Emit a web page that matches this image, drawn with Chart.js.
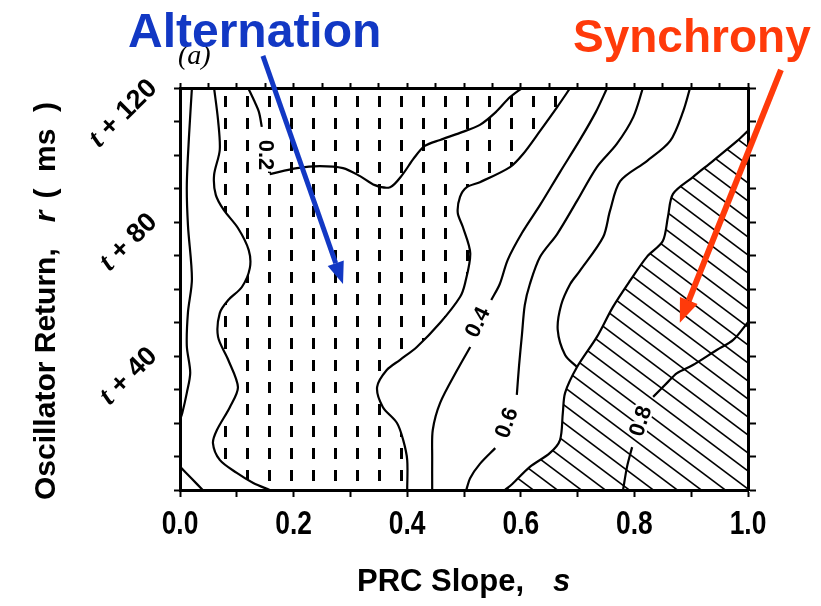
<!DOCTYPE html>
<html>
<head>
<meta charset="utf-8">
<script src="https://cdn.jsdelivr.net/npm/chart.js@4.4.1/dist/chart.umd.min.js"></script>
<style>
  html, body { margin: 0; padding: 0; background: #fff; }
</style>
</head>
<body>
<canvas id="contourChart" width="821" height="606"></canvas>
<script>
// axis ticks
const sTicks = [0.0, 0.2, 0.4, 0.6, 0.8, 1.0];
const rTicks = [40, 80, 120];
const rTickText = ['t + 40', 't + 80', 't + 120'];

// contour lines, [s, r] pairs
const edgeLeft = [[0.021,120],[0.016,106],[0.012,91],[0.014,79],[0.021,63],[0.014,53],[0.012,43],[0.018,35],[0.012,29],[0.004,23],[0,21]];
const edgeCorner = [[0,7],[0.02,3.5],[0.04,0]];
const altLeft = [[0.060,120],[0.067,110.4],[0.070,101.5],[0.060,94.0],[0.063,88.1],[0.077,83.6],[0.102,78.2],[0.121,71.6],[0.123,66.3],[0.109,60.6],[0.085,56.7],[0.070,52.8],[0.067,45.7],[0.085,38.8],[0.102,30.7],[0.088,24.8],[0.065,17.9],[0.058,14.0],[0.070,9.0],[0.100,5.1],[0.129,2.1],[0.158,0]];
const altRight = [[0.687,120],[0.664,114.3],[0.634,107.2],[0.604,100.3],[0.581,96.4],[0.528,91.9],[0.505,90.4],[0.493,87.5],[0.489,82.7],[0.498,78.5],[0.511,70.7],[0.502,61.8],[0.493,57.6],[0.458,49.9],[0.417,42.7],[0.387,38.8],[0.364,35.8],[0.347,30.7],[0.357,24.8],[0.382,20.0],[0.393,14.9],[0.400,9.0],[0.400,0]];
const c02top = [[0.120,120],[0.130,116.4],[0.139,112.8],[0.144,108.4]];
const c02loop = [[0.158,94.3],[0.206,96.1],[0.246,96.7],[0.287,96.1],[0.317,93.7],[0.343,91.0],[0.370,90.4],[0.391,94.0],[0.412,99.1],[0.431,102.7],[0.458,104.5],[0.493,106.6],[0.528,109.0],[0.556,112.8],[0.581,117.3],[0.602,120]];
const c04top = [[0.752,120],[0.732,112.8],[0.704,104.5],[0.669,94.9],[0.634,85.1],[0.602,76.7],[0.577,68.7],[0.563,61.5],[0.548,56.7]];
const c04low = [[0.511,42.7],[0.488,35.8],[0.458,26.0],[0.445,17.9],[0.444,9.9],[0.444,0]];
const c06top = [[0.815,120],[0.798,111.3],[0.769,103.3],[0.734,96.4],[0.699,86.3],[0.664,76.4],[0.634,69.6],[0.616,61.5],[0.607,55.2],[0.602,46.3],[0.597,37.3],[0.593,28.4]];
const c06low = [[0.555,12.5],[0.528,7.8],[0.511,3.6],[0.504,0]];
const c07 = [[0.898,120],[0.886,113.1],[0.863,104.2],[0.822,98.2],[0.775,92.2],[0.757,83.3],[0.745,75.5],[0.704,65.4],[0.687,61.5],[0.671,55.2],[0.665,47.8],[0.678,40.3],[0.699,36.7]];
const syncEdge = [[1.0,107.2],[0.981,104.2],[0.938,98.2],[0.903,93.4],[0.868,88.4],[0.859,81.5],[0.850,74.3],[0.822,69.6],[0.792,62.4],[0.762,54.6],[0.734,45.7],[0.699,36.7],[0.678,29.0],[0.674,23.0],[0.669,14.9],[0.651,11.0],[0.616,6.9],[0.585,1.8],[0.572,0]];
const c08top = [[1.0,50.1],[0.974,44.8],[0.945,41.8],[0.903,37.3],[0.875,34.9],[0.857,31.9],[0.833,27.8]];
const c08low = [[0.796,12.8],[0.787,6.9],[0.780,0]];

const FONT = '"Liberation Sans", Arial, sans-serif';

const ctx = document.getElementById('contourChart').getContext('2d');

function dashPattern() {
  const c = document.createElement('canvas');
  c.width = 22; c.height = 22;
  const g = c.getContext('2d');
  g.fillStyle = '#000';
  g.fillRect(4, 8, 3, 11);
  return g.createPattern(c, 'repeat');
}

function hatchPattern() {
  const c = document.createElement('canvas');
  c.width = 24; c.height = 18;
  const g = c.getContext('2d');
  g.strokeStyle = '#000';
  g.lineWidth = 1.6;
  for (const off of [-18, 0, 18]) {
    g.beginPath();
    g.moveTo(-2, off - 1.5);
    g.lineTo(26, off + 19.5);
    g.stroke();
  }
  return g.createPattern(c, 'repeat');
}

const toXY = arr => arr.map(([x, y]) => ({x, y}));

function contour(arr) {
  return {data: toXY(arr), showLine: true, borderColor: '#000', borderWidth: 2.2,
    pointRadius: 0, tension: 0.3, fill: false, order: 1};
}
function region(arr, pattern) {
  return {data: toXY(arr), showLine: true, borderColor: 'rgba(0,0,0,0)', borderWidth: 1,
    backgroundColor: pattern, pointRadius: 0, tension: 0.3, fill: 'shape', order: 5};
}

function arrow(g, x0, y0, x1, y1, color, w, len, wid) {
  const a = Math.atan2(y1 - y0, x1 - x0);
  const bx = x1 - len * Math.cos(a), by = y1 - len * Math.sin(a);
  g.strokeStyle = color;
  g.lineWidth = w;
  g.beginPath(); g.moveTo(x0, y0); g.lineTo(bx, by); g.stroke();
  g.fillStyle = color;
  g.beginPath();
  g.moveTo(x1, y1);
  g.lineTo(bx + wid / 2 * Math.sin(a), by - wid / 2 * Math.cos(a));
  g.lineTo(bx - wid / 2 * Math.sin(a), by + wid / 2 * Math.cos(a));
  g.closePath();
  g.fill();
}

const decorations = {
  id: 'decorations',
  afterDatasetsDraw(chart) {
    const {ctx: g, scales: {x, y}} = chart;
    // contour values written along the lines
    const tags = [['0.2', 0.150, 100, 90], ['0.4', 0.525, 50, -64], ['0.6', 0.576, 20, -70], ['0.8', 0.812, 20.5, -72]];
    g.save();
    g.font = 'bold 22px ' + FONT;
    g.textAlign = 'center';
    g.textBaseline = 'middle';
    tags.forEach(([txt, s, r, deg]) => {
      g.save();
      g.translate(x.getPixelForValue(s), y.getPixelForValue(r));
      g.rotate(deg * Math.PI / 180);
      g.strokeStyle = '#fff'; g.lineWidth = 5; g.lineJoin = 'round';
      g.strokeText(txt, 0, 0);
      g.fillStyle = '#000';
      g.fillText(txt, 0, 0);
      g.restore();
    });
    g.restore();
  },
  afterDraw(chart) {
    const {ctx: g, chartArea: a, scales: {x, y}} = chart;
    g.save();
    g.fillStyle = '#000';

    // slope tick labels, narrow bold digits
    g.font = 'bold 33px ' + FONT;
    g.textAlign = 'center';
    g.textBaseline = 'alphabetic';
    sTicks.forEach(v => {
      g.save();
      g.translate(x.getPixelForValue(v), a.bottom + 44);
      g.scale(0.8, 1);
      g.fillText(v.toFixed(1), 0, 0);
      g.restore();
    });

    // slanted "t + n" labels on the return axis
    rTicks.forEach((v, i) => {
      const head = rTickText[i].slice(0, 1), tail = rTickText[i].slice(1);
      g.save();
      g.translate(a.left - 27, y.getPixelForValue(v) - 4);
      g.rotate(-Math.PI / 4);
      g.textBaseline = 'middle';
      g.textAlign = 'left';
      g.font = 'bold 27px ' + FONT;
      const wt = g.measureText(tail).width;
      g.fillText(tail, -wt, 0);
      g.font = 'italic bold 29px "Liberation Serif", serif';
      const wh = g.measureText(head).width;
      g.fillText(head, -wt - wh, 0);
      g.restore();
    });

    // axis titles
    g.textAlign = 'left';
    g.textBaseline = 'alphabetic';
    const xt = a.left + 177;
    g.font = 'bold 31px ' + FONT;
    g.fillText('PRC Slope,', xt, 591);
    g.font = 'italic bold 31px ' + FONT;
    g.fillText('s', xt + 196, 591);

    g.save();
    g.translate(55, a.bottom + 10);
    g.rotate(-Math.PI / 2);
    g.font = 'bold 30px ' + FONT;
    g.fillText('Oscillator Return,', 0, 0);
    let off = g.measureText('Oscillator Return,').width + 26;
    g.font = 'italic bold 30px ' + FONT;
    g.fillText('r', off, 0);
    off += g.measureText('r').width + 12;
    g.font = 'bold 30px ' + FONT;
    g.fillText('(  ms  )', off, 0);
    g.restore();

    // panel tag and callouts
    g.font = 'italic 28px "Liberation Serif", serif';
    g.fillText('(a)', a.left - 2, 64);

    arrow(g, x.getPixelForValue(0.146), y.getPixelForValue(129.6),
      x.getPixelForValue(0.287), y.getPixelForValue(61.5), '#1238c4', 5, 22, 17);
    arrow(g, x.getPixelForValue(1.058), y.getPixelForValue(125.4),
      x.getPixelForValue(0.880), y.getPixelForValue(49.9), '#ff3a0a', 6, 24, 19);

    g.font = 'bold 48px ' + FONT;
    g.fillStyle = '#1238c4';
    g.fillText('Alternation', 128, 47);
    g.font = 'bold 46px ' + FONT;
    g.fillStyle = '#ff3a0a';
    g.fillText('Synchrony', 573, 52);
    g.restore();
  }
};

const axisGrid = len => ({drawOnChartArea: false, drawTicks: true, tickLength: len, tickWidth: 2, tickColor: '#000'});
const axisBorder = {display: true, color: '#000', width: 3};

new Chart(ctx, {
  type: 'scatter',
  data: {
    datasets: [
      region(altLeft.concat(altRight.slice().reverse()), dashPattern()),
      region(syncEdge.concat([[1.0, 0]]), hatchPattern()),
      contour(edgeLeft), contour(edgeCorner),
      contour(altLeft), contour(altRight),
      contour(c02top), contour(c02loop),
      contour(c04top), contour(c04low),
      contour(c06top), contour(c06low),
      contour(c07), contour(syncEdge),
      contour(c08top), contour(c08low)
    ]
  },
  options: {
    responsive: false,
    animation: false,
    events: [],
    layout: {padding: 0},
    plugins: {legend: {display: false}, tooltip: {enabled: false}},
    scales: {
      x: {
        type: 'linear', position: 'bottom', min: 0, max: 1,
        grid: axisGrid(7), border: axisBorder,
        afterFit: s => { s.height = 116; },
        ticks: {stepSize: 0.1, autoSkip: false, maxRotation: 0, callback: () => ''}
      },
      xTop: {
        type: 'linear', position: 'top', min: 0, max: 1,
        grid: axisGrid(5), border: axisBorder,
        afterFit: s => { s.height = 88; },
        ticks: {stepSize: 0.05, autoSkip: false, maxRotation: 0, callback: () => ''}
      },
      y: {
        type: 'linear', position: 'left', min: 0, max: 120,
        grid: axisGrid(6), border: axisBorder,
        afterFit: s => { s.width = 180; },
        ticks: {stepSize: 10, autoSkip: false, callback: () => ''}
      },
      yRight: {
        type: 'linear', position: 'right', min: 0, max: 120,
        grid: axisGrid(8), border: axisBorder,
        afterFit: s => { s.width = 73; },
        ticks: {stepSize: 10, autoSkip: false, callback: () => ''}
      }
    }
  },
  plugins: [decorations]
});
</script>
</body>
</html>
